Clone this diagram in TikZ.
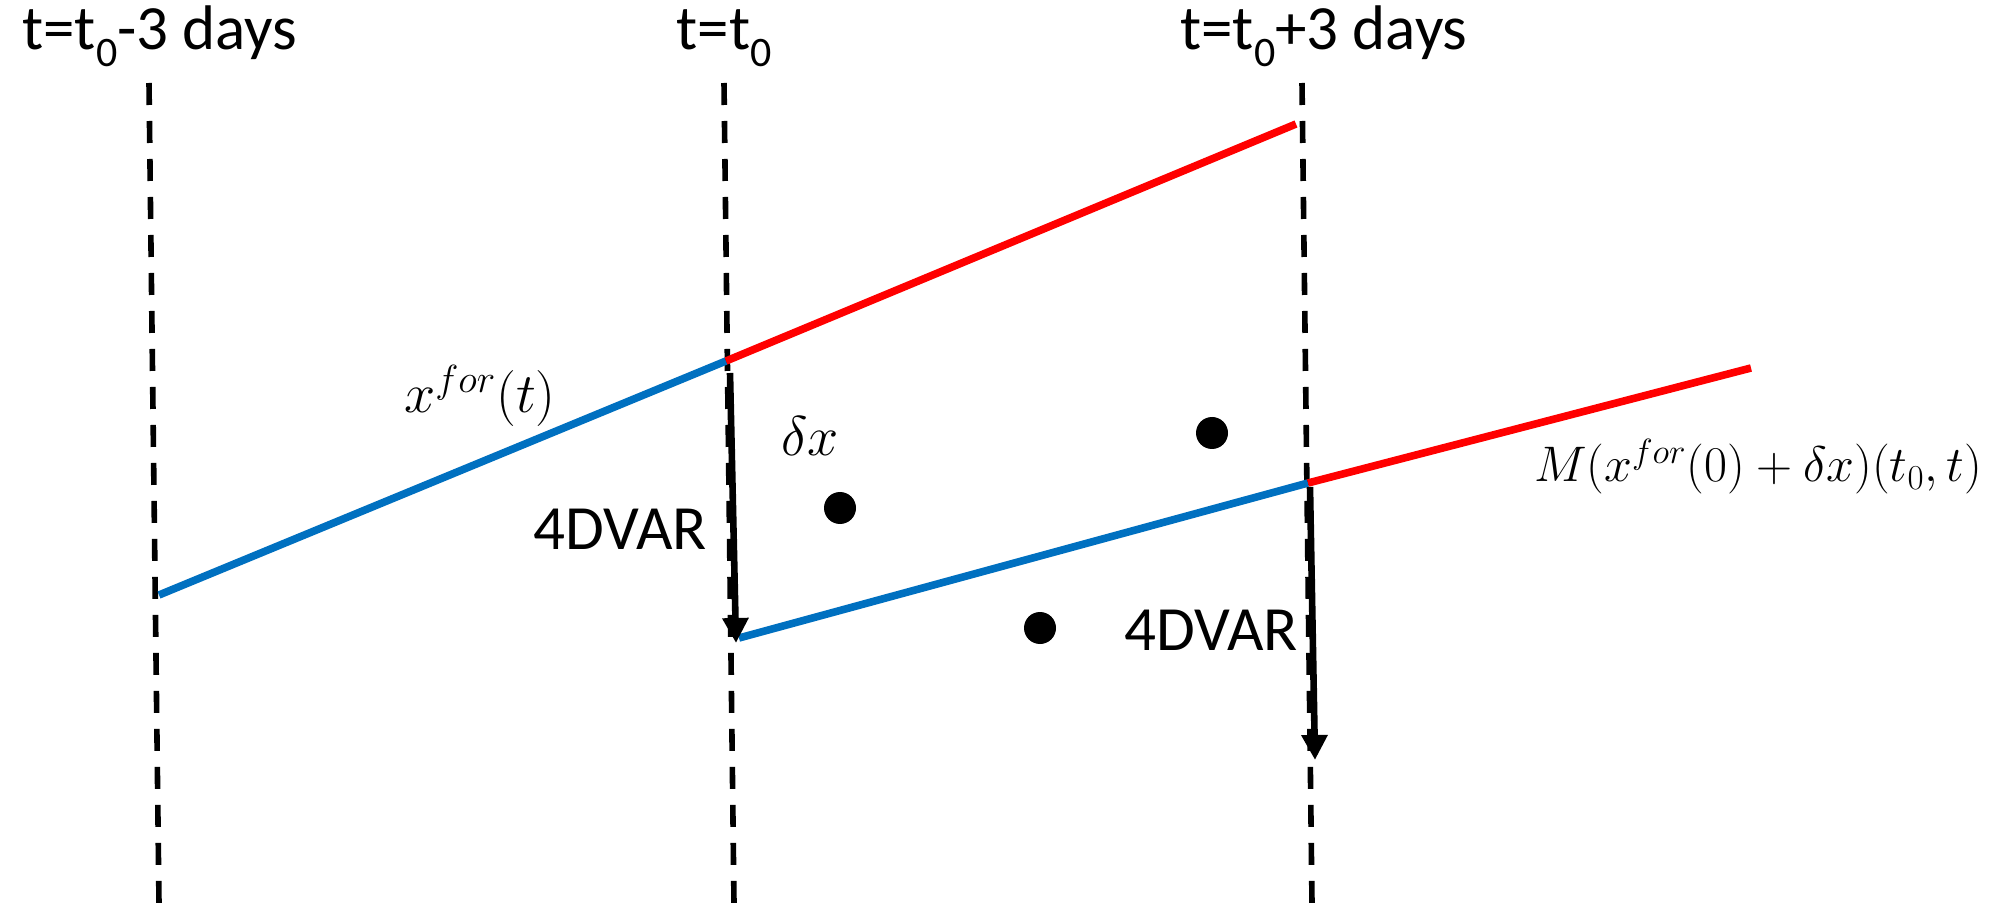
\RequirePackage{fix-cm}
\documentclass[tikz,border=0pt]{standalone}
\usepackage{fontspec}
\setmainfont{Carlito}
\usetikzlibrary{arrows.meta}
\definecolor{lineblue}{RGB}{0,112,192}
\definecolor{linered}{RGB}{255,0,0}
\newcommand\tlsub[1]{\raisebox{-0.26em}{\fontsize{21}{24}\selectfont #1}}
\begin{document}
\begin{tikzpicture}[x=0.5pt,y=-0.5pt,
  guide/.style={draw=black,line width=2.8pt,dash pattern=on 11pt off 8pt},
  bluetraj/.style={draw=lineblue,line width=3.8pt},
  redtraj/.style={draw=linered,line width=3.8pt},
  incr/.style={draw=black,line width=3.3pt,-{Triangle[width=12.5pt,length=12.5pt]}},
  obs/.style={circle,fill=black,inner sep=0pt,minimum size=16pt},
  title/.style={anchor=base,inner sep=0pt,font=\fontsize{31.5}{36}\selectfont},
  mathlbl/.style={inner sep=0pt,font=\fontsize{25}{30}\selectfont},
  mathbig/.style={inner sep=0pt,font=\fontsize{28}{33}\selectfont}]
\useasboundingbox (0,0) rectangle (1992,903);
% time guides
\coordinate (g1t) at (149,83);  \coordinate (g1b) at (159,903);
\coordinate (g2t) at (724,83);  \coordinate (g2b) at (734,903);
\coordinate (g3t) at (1302,83); \coordinate (g3b) at (1312,903);
\draw[guide] (g1t) -- (g1b);
\draw[guide] (g2t) -- (g2b);
\draw[guide] (g3t) -- (g3b);
% titles
\node[title] (T1) at (160,50) {t=t\tlsub{0}-3 days};
\node[title] (T2) at (724,50) {t=t\tlsub{0}};
\node[title] (T3) at (1324,50) {t=t\tlsub{0}+3 days};
% trajectories
\coordinate (a0) at (159,595);
\coordinate (a1) at (726,361);
\coordinate (a2) at (1296,124);
\coordinate (b0) at (739,638);
\coordinate (b1) at (1308,483);
\coordinate (b2) at (1751,368);
\draw[bluetraj] (a0) -- (a1);
\draw[redtraj] (a1) -- (a2);
\draw[bluetraj] (b0) -- (b1);
\draw[redtraj] (b1) -- (b2);
% 4DVAR increments
\coordinate (i1s) at (730,373);
\coordinate (i1e) at (736,643);
\coordinate (i2s) at (1310,487);
\coordinate (i2e) at (1315,760);
\draw[incr] (i1s) -- (i1e);
\draw[incr] (i2s) -- (i2e);
% observations
\node[obs] (o1) at (840,508) {};
\node[obs] (o2) at (1212,433) {};
\node[obs] (o3) at (1040,628) {};
% labels
\node[mathbig] (lf) at (480,396) {$x^{for}(t)$};
\node[mathbig] (ld) at (810,436) {$\delta x$};
\node[mathlbl] (lm) at (1758,467) {$M(x^{for}(0)+\delta x)(t_0,t)$};
\node[title] (v1) at (620,549) {4DVAR};
\node[title] (v2) at (1211,650) {4DVAR};
\end{tikzpicture}
\end{document}
